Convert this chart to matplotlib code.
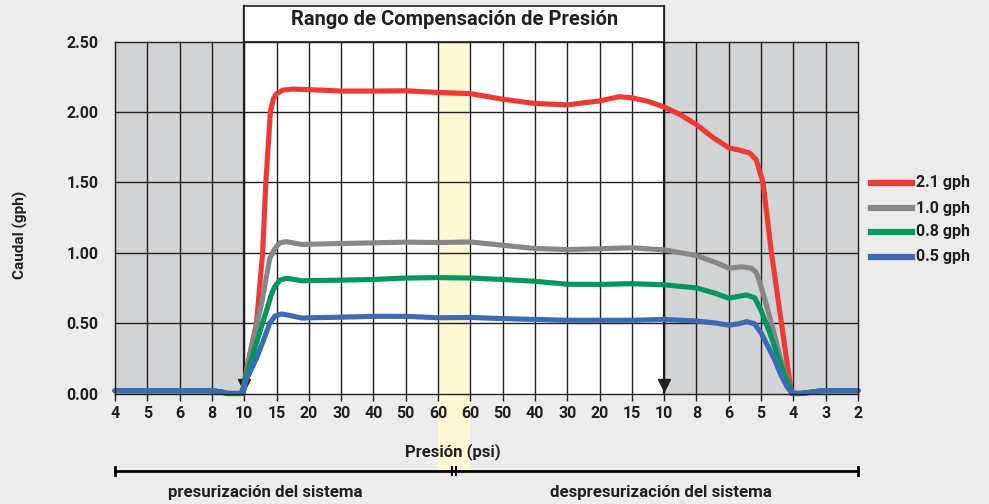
import matplotlib
matplotlib.use("Agg")
import matplotlib.pyplot as plt
from matplotlib.patches import Rectangle
from matplotlib.lines import Line2D

plt.rcParams['font.family'] = ['Roboto', 'DejaVu Sans']
plt.rcParams['font.weight'] = 'bold'

# ---------------- data ----------------
categories = ['4', '5', '6', '8', '10', '15', '20', '30', '40', '50', '60',
              '60', '50', '40', '30', '20', '15', '10', '8', '6', '5', '4', '3', '2']

series_names = ['2.1 gph', '1.0 gph', '0.8 gph', '0.5 gph']
series_colors = ['#ee3a33', '#878787', '#00975f', '#3d6bb3']

red_x = [0, 3.0, 3.3, 3.5, 3.95, 4.1, 4.38, 4.57, 4.67, 4.81, 4.9, 5.0, 5.2, 5.5, 6.0, 7.0, 8.0,
         9.0, 10.0, 11.0, 12.0, 13.0, 14.0, 15.0, 15.6, 16.0, 16.5, 17.0, 17.5, 18.0,
         18.5, 19.0, 19.35, 19.65, 19.85, 20.06, 20.32, 20.63, 20.94, 21.2, 21.5, 21.9, 23]
red_y = [0.02, 0.02, 0.01, 0.0, 0.0, 0.2, 0.5, 1.0, 1.5, 2.0, 2.09, 2.13, 2.155, 2.162, 2.158, 2.148, 2.148,
         2.15, 2.138, 2.13, 2.09, 2.06, 2.05, 2.078, 2.108, 2.10, 2.075, 2.035, 1.98, 1.91,
         1.82, 1.745, 1.727, 1.708, 1.66, 1.5, 1.0, 0.5, 0.0, 0.0, 0.008, 0.02, 0.02]

gray_x = [0, 3.0, 3.3, 3.5, 3.97, 4.2, 4.54, 4.79, 4.95, 5.1, 5.3, 5.55, 5.8, 6.0, 7.0, 8.0, 9.0,
          10.0, 11.0, 12.0, 13.0, 14.0, 15.0, 16.0, 17.0, 18.0, 18.6, 19.0, 19.4, 19.7,
          19.85, 20.0, 20.15, 20.32, 20.6, 20.94, 21.2, 21.5, 21.9, 23]
gray_y = [0.02, 0.02, 0.01, 0.0, 0.0, 0.3, 0.64, 0.96, 1.03, 1.07, 1.078, 1.068, 1.058, 1.06, 1.065, 1.07, 1.075,
          1.072, 1.076, 1.053, 1.03, 1.022, 1.028, 1.035, 1.02, 0.98, 0.93, 0.89, 0.90, 0.89,
          0.86, 0.76, 0.64, 0.5, 0.25, 0.0, 0.0, 0.008, 0.02, 0.02]

green_x = [0, 3.0, 3.3, 3.5, 3.97, 4.02, 4.28, 4.5, 4.69, 4.85, 4.95, 5.1, 5.3, 5.55, 5.8, 6.0, 7.0,
           8.0, 9.0, 10.0, 11.0, 12.0, 13.0, 14.0, 15.0, 16.0, 17.0, 18.0, 18.6, 19.0,
           19.3, 19.55, 19.8, 20.0, 20.27, 20.63, 20.93, 21.0, 21.2, 21.5, 21.9, 23]
green_y = [0.02, 0.02, 0.01, 0.0, 0.0, 0.1, 0.285, 0.45, 0.59, 0.71, 0.76, 0.805, 0.818, 0.81, 0.80, 0.802, 0.805,
           0.81, 0.82, 0.823, 0.82, 0.81, 0.797, 0.776, 0.775, 0.78, 0.772, 0.75, 0.71, 0.677,
           0.69, 0.70, 0.68, 0.59, 0.43, 0.19, 0.02, 0.0, 0.0, 0.008, 0.02, 0.02]

blue_x = [0, 3.0, 3.3, 3.5, 3.9, 4.07, 4.38, 4.6, 4.79, 4.95, 5.15, 5.4, 5.8, 6.0, 7.0, 8.0, 9.0,
          10.0, 11.0, 12.0, 13.0, 14.0, 15.0, 16.0, 17.0, 18.0, 18.6, 19.0, 19.3, 19.55,
          19.8, 20.0, 20.2, 20.4, 20.6, 20.8, 20.95, 21.2, 21.5, 21.9, 23]
blue_y = [0.02, 0.02, 0.01, 0.0, 0.0, 0.1, 0.25, 0.38, 0.5, 0.55, 0.565, 0.555, 0.535, 0.538, 0.542, 0.548, 0.548,
          0.538, 0.54, 0.532, 0.526, 0.52, 0.52, 0.52, 0.526, 0.515, 0.50, 0.485, 0.495, 0.51,
          0.495, 0.43, 0.34, 0.25, 0.14, 0.05, 0.005, 0.0, 0.008, 0.02, 0.02]

y_ticks = [0.0, 0.5, 1.0, 1.5, 2.0, 2.5]

series_x = [red_x, gray_x, green_x, blue_x]
series_y = [red_y, gray_y, green_y, blue_y]

# ---------------- figure ----------------
W, H = 989, 504
fig = plt.figure(figsize=(W / 100, H / 100), dpi=100, facecolor='#ececec')
L, R, T, B = 115, 858, 41.5, 393.5
ax = fig.add_axes([L / W, (H - B) / H, (R - L) / W, (B - T) / H])
ax.set_facecolor('white')
ax.set_xlim(0, len(categories) - 1)
ax.set_ylim(0, 2.5)

dark = '#231f20'
# shaded regions
ax.axvspan(0, 4, color='#d1d3d4', zorder=0, lw=0)
ax.axvspan(17, 23, color='#d1d3d4', zorder=0, lw=0)
# yellow band extends below the axis
ax.add_patch(Rectangle((10, -0.22), 1, 1.22, transform=ax.get_xaxis_transform(),
                       facecolor='#fcf8d4', edgecolor='none', clip_on=False, zorder=0))

# grid
for i in range(1, len(categories) - 1):
    ax.axvline(i, color=dark, lw=1.0, zorder=1)
for v in y_ticks[1:-1]:
    ax.axhline(v, color=dark, lw=1.0, zorder=1)

# thick boundary lines + title box
for xv in (4, 17):
    ax.plot([xv, xv], [0, 1.102], transform=ax.get_xaxis_transform(), color=dark,
            lw=1.6, clip_on=False, zorder=2)
ax.add_patch(Rectangle((4, 1.0), 13, 0.102, transform=ax.get_xaxis_transform(),
                       facecolor='white', edgecolor=dark, lw=1.2, clip_on=False, zorder=2))
ax.text(10.5, 1.063, 'Rango de Compensación de Presión', transform=ax.get_xaxis_transform(),
        ha='center', va='center', fontsize=14.5, fontweight='bold', color=dark)

# arrowheads
ax.plot([4, 17], [0.06, 0.06], ls='none', marker='v', markersize=9, color=dark, zorder=3)

# curves
for xs, ys, c in zip(series_x, series_y, series_colors):
    ax.plot(xs, ys, color=c, lw=3.7, solid_joinstyle='round', solid_capstyle='round',
            zorder=5, clip_on=False)

for s in ax.spines.values():
    s.set_color(dark)
    s.set_linewidth(1.0)
    s.set_zorder(6)

ax.set_xticks(range(len(categories)))
ax.set_xticklabels(categories)
ax.set_yticks(y_ticks)
ax.set_yticklabels([f'{v:.2f}' for v in y_ticks])
ax.tick_params(axis='x', length=5, width=1, color=dark, pad=4, labelsize=11.5, labelcolor=dark)
ax.tick_params(axis='y', length=0, pad=12, labelsize=11.5, labelcolor=dark)
for lab in ax.get_xticklabels() + ax.get_yticklabels():
    lab.set_fontweight('bold')

# axis titles
ax.text(10.45, -0.166, 'Presión (psi)', transform=ax.get_xaxis_transform(), ha='center',
        va='center', fontsize=12, fontweight='bold', color=dark)
fig.text(20 / W, 1 - 235 / H, 'Caudal (gph)', rotation=90, ha='center', va='center',
         fontsize=11, fontweight='bold', color=dark)

# bracket
yb = -0.220
tr = ax.get_xaxis_transform()
ax.plot([0, 23], [yb, yb], transform=tr, color='black', lw=2, clip_on=False)
for xv in (0, 23):
    ax.plot([xv, xv], [yb - 0.012, yb + 0.012], transform=tr, color='black', lw=2, clip_on=False)
for xv in (10.44, 10.56):
    ax.plot([xv, xv], [yb - 0.012, yb + 0.012], transform=tr, color='black', lw=1.5, clip_on=False)
ax.text(4.64, -0.282, 'presurización del sistema', transform=tr, ha='center', va='center',
        fontsize=12.2, fontweight='bold', color=dark)
ax.text(16.9, -0.282, 'despresurización del sistema', transform=tr, ha='center', va='center',
        fontsize=12.2, fontweight='bold', color=dark)

# legend (manual)
leg_y = [183, 208, 232, 257]
for name, c, yy in zip(series_names, series_colors, leg_y):
    fig.add_artist(Line2D([871 / W, 912 / W], [1 - yy / H, 1 - yy / H], color=c, lw=4.5))
    fig.text(916 / W, 1 - yy / H, name, ha='left', va='center', fontsize=11.5,
             fontweight='bold', color=dark)

fig.savefig('out.png', dpi=100, facecolor=fig.get_facecolor())
